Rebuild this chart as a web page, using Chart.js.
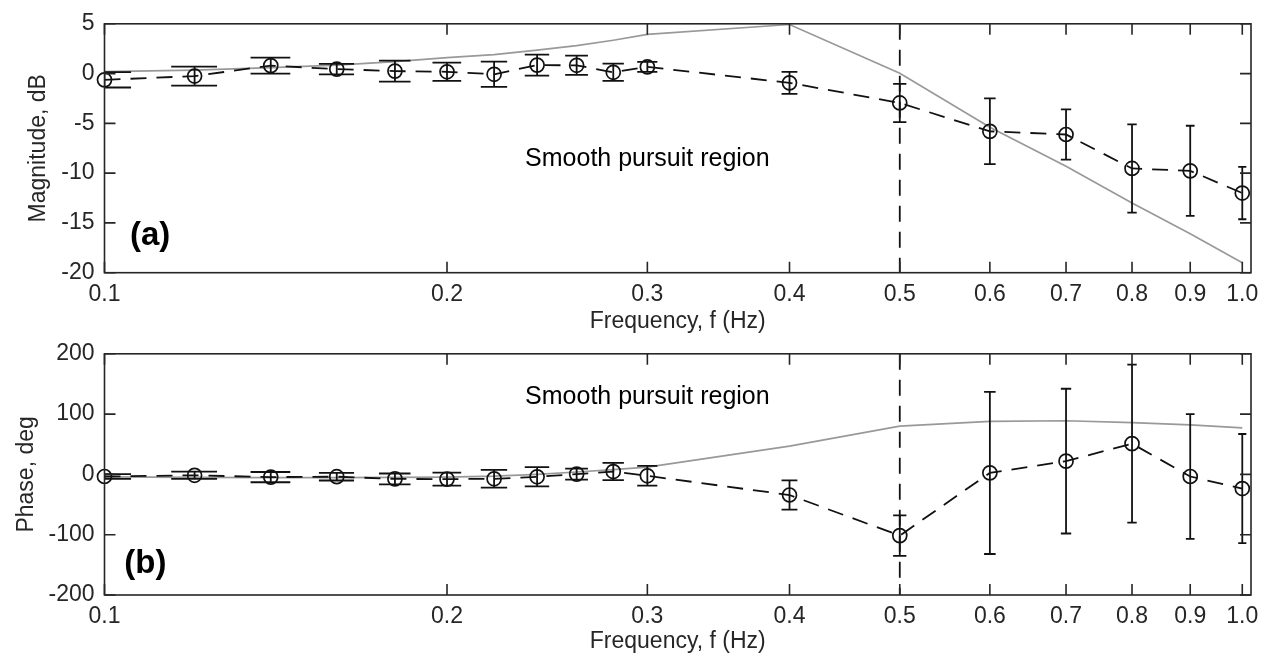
<!DOCTYPE html>
<html>
<head>
<meta charset="utf-8">
<script src="https://cdn.jsdelivr.net/npm/chart.js@4.4.1/dist/chart.umd.min.js"></script>
<style>
  html, body { margin:0; padding:0; background:#fff; }
  #wrap { position:relative; width:1270px; height:660px; overflow:hidden; }
  canvas { position:absolute; left:0; }
</style>
</head>
<body>
<div id="wrap">
  <canvas id="magChart" width="1270" height="345" style="top:0"></canvas>
  <canvas id="phaseChart" width="1270" height="330" style="top:330px"></canvas>
</div>
<script>
// Frequencies (Hz) and axis ticks
const freqs = [0.1,0.12,0.14,0.16,0.18,0.2,0.22,0.24,0.26,0.28,0.3,0.4,0.5,0.6,0.7,0.8,0.9,1.0];
const freqTicks = [0.1,0.2,0.3,0.4,0.5,0.6,0.7,0.8,0.9,1.0];
const magTicks = [5,0,-5,-10,-15,-20];
const phaseTicks = [200,100,0,-100,-200];

// Magnitude (dB): measured mean, error, model
const magMean  = [-0.63,-0.25,0.8,0.45,0.25,0.18,-0.07,0.85,0.83,0.13,0.67,-0.93,-2.95,-5.8,-6.12,-9.53,-9.77,-12.0];
const magErr   = [0.77,0.95,0.8,0.53,1.05,0.92,1.27,1.05,0.97,0.87,0.5,1.1,1.92,3.3,2.52,4.43,4.53,2.63];
const magModel = [0.2,0.35,0.6,0.85,1.2,1.6,1.9,2.35,2.8,3.35,3.93,4.93,0.03,-5.4,-9.3,-13.0,-16.1,-19.0];

// Phase (deg): measured mean, error, model
const phaseMean  = [-3.5,-1.5,-4.5,-3.8,-7.5,-7.8,-7.3,-4,0.5,4.7,-2.3,-34.2,-101.5,2.5,22,51,-3.5,-23.5];
const phaseErr   = [4,6,8.5,6.3,9,10.8,14.7,16,9,14.3,16.3,24.2,33.5,134.5,120,131,103.5,90.5];
const phaseModel = [-4,-5,-5.5,-5.5,-5,-4.5,-3,0,4,8,12,47,80,88,89,86,82,77];

const cutoff = 0.5;
const INK = '#262626';
const FONT = "'Liberation Sans', Arial, Helvetica, sans-serif";

Chart.defaults.font.family = FONT;
Chart.defaults.color = INK;

// Error bars, cutoff line, box with inward ticks, labels
const framePlugin = {
  id: 'framePlugin',
  afterDatasetsDraw(chart, args, opts) {
    const {ctx, chartArea: a, scales: {x, y}} = chart;
    ctx.save();
    ctx.beginPath();
    ctx.rect(a.left, a.top, a.right - a.left, a.bottom - a.top);
    ctx.clip();
    ctx.strokeStyle = '#111';
    ctx.lineWidth = 1.8;
    opts.mean.forEach((m, i) => {
      const f = freqs[i], e = opts.err[i];
      const px = x.getPixelForValue(f);
      const y1 = y.getPixelForValue(m + e), y2 = y.getPixelForValue(m - e);
      const xl = x.getPixelForValue(f - 0.0052) - 1.5;
      const xr = x.getPixelForValue(f + 0.0052) + 1.5;
      ctx.beginPath();
      ctx.moveTo(px, y1); ctx.lineTo(px, y2);
      ctx.moveTo(xl, y1); ctx.lineTo(xr, y1);
      ctx.moveTo(xl, y2); ctx.lineTo(xr, y2);
      ctx.stroke();
    });
    const vx = x.getPixelForValue(cutoff);
    ctx.setLineDash([16, 10]);
    ctx.beginPath();
    ctx.moveTo(vx, a.top); ctx.lineTo(vx, a.bottom);
    ctx.stroke();
    ctx.restore();

    // box + ticks pointing in
    ctx.save();
    ctx.strokeStyle = INK;
    ctx.lineWidth = 1.6;
    ctx.strokeRect(a.left, a.top, a.right - a.left, a.bottom - a.top);
    ctx.beginPath();
    x.ticks.forEach(t => {
      const px = x.getPixelForValue(t.value);
      ctx.moveTo(px, a.bottom); ctx.lineTo(px, a.bottom - 11);
      ctx.moveTo(px, a.top); ctx.lineTo(px, a.top + 11);
    });
    y.ticks.forEach(t => {
      const py = y.getPixelForValue(t.value);
      ctx.moveTo(a.left, py); ctx.lineTo(a.left + 11, py);
      ctx.moveTo(a.right, py); ctx.lineTo(a.right - 11, py);
    });
    ctx.stroke();

    ctx.fillStyle = '#000';
    ctx.textBaseline = 'middle';
    ctx.textAlign = 'center';
    ctx.font = `25px ${FONT}`;
    ctx.fillText('Smooth pursuit region', x.getPixelForValue(opts.noteAt[0]), y.getPixelForValue(opts.noteAt[1]));
    ctx.textAlign = 'left';
    ctx.font = `bold 33px ${FONT}`;
    ctx.fillText(opts.tag, x.getPixelForValue(opts.tagAt[0]), y.getPixelForValue(opts.tagAt[1]));
    ctx.restore();
  }
};

function makeChart(id, cfg) {
  const ctx = document.getElementById(id).getContext('2d');
  return new Chart(ctx, {
    type: 'line',
    data: {
      datasets: [{
        data: freqs.map((f, i) => ({x: f, y: cfg.mean[i]})),
        borderColor: '#111',
        borderWidth: 1.8,
        borderDash: [16, 10],
        pointRadius: 7,
        pointBorderWidth: 1.7,
        pointBorderColor: '#111',
        pointBackgroundColor: 'rgba(0,0,0,0)',
        fill: false,
        tension: 0,
        clip: false
      }, {
        data: freqs.map((f, i) => ({x: f, y: cfg.model[i]})),
        borderColor: '#999999',
        borderWidth: 1.7,
        pointRadius: 0,
        fill: false,
        tension: 0
      }]
    },
    options: {
      responsive: false,
      animation: false,
      devicePixelRatio: 1,
      layout: {padding: cfg.padding},
      plugins: {
        legend: {display: false},
        tooltip: {enabled: false},
        framePlugin: {mean: cfg.mean, err: cfg.err, tag: cfg.tag, tagAt: cfg.tagAt, noteAt: cfg.noteAt}
      },
      scales: {
        x: {
          type: 'logarithmic',
          min: 0.1,
          max: 1.0178,
          grid: {display: false, drawTicks: false},
          border: {display: false},
          afterBuildTicks: s => { s.ticks = freqTicks.map(v => ({value: v})); },
          afterFit: s => { s.height = cfg.xHeight; },
          ticks: {
            autoSkip: false, maxRotation: 0, padding: 8,
            font: {size: 23},
            callback: v => Number(v).toFixed(1)
          },
          title: {display: true, text: 'Frequency, f (Hz)', font: {size: 23}, padding: {top: 0, bottom: cfg.xTitlePad}}
        },
        y: {
          min: cfg.ticks[cfg.ticks.length - 1],
          max: cfg.ticks[0],
          grid: {display: false, drawTicks: false},
          border: {display: false},
          afterBuildTicks: s => { s.ticks = cfg.ticks.map(v => ({value: v})); },
          afterFit: s => { s.width = 104.5; },
          ticks: {padding: 10, font: {size: 23}},
          title: {display: true, text: cfg.yTitle, font: {size: 23}, padding: {top: cfg.yTitlePad, bottom: 0}}
        }
      }
    },
    plugins: [framePlugin]
  });
}

makeChart('magChart', {
  mean: magMean, err: magErr, model: magModel, ticks: magTicks,
  yTitle: 'Magnitude, dB', tag: '(a)', tagAt: [0.1053, -16.3], noteAt: [0.3, -8.6],
  padding: {left: 0, right: 19, top: 22, bottom: 0},
  xHeight: 72.3, xTitlePad: 10, yTitlePad: 24.7
});

makeChart('phaseChart', {
  mean: phaseMean, err: phaseErr, model: phaseModel, ticks: phaseTicks,
  yTitle: 'Phase, deg', tag: '(b)', tagAt: [0.1041, -149], noteAt: [0.3, 129],
  padding: {left: 0, right: 19, top: 13.7, bottom: 0},
  xHeight: 65, xTitlePad: 4.5, yTitlePad: 12.5
});
</script>
</body>
</html>
